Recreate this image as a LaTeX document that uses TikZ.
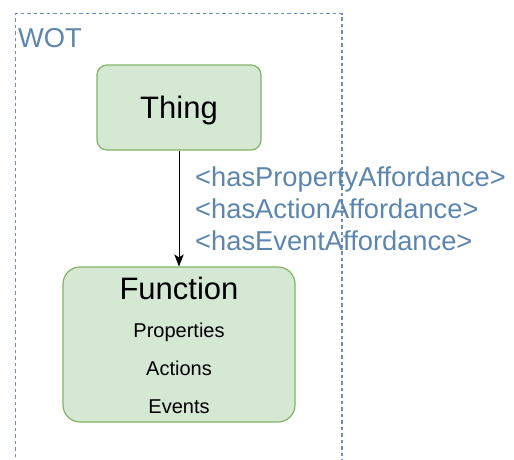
\documentclass[tikz,border=0pt]{standalone}
\usepackage{fontspec}
\setmainfont{Liberation Sans}
\usetikzlibrary{arrows.meta}
\definecolor{gfill}{HTML}{D5E8D4}
\definecolor{gline}{HTML}{82B366}
\definecolor{btext}{HTML}{5C86AE}
\definecolor{bdash}{HTML}{6C8EBF}
\tikzset{
  greenbox/.style={draw=gline, fill=gfill, line width=1.2pt, inner sep=0pt},
  lbl/.style={text=btext, font=\fontsize{27.3}{30}\selectfont, inner sep=0pt, anchor=base west},
  itm/.style={font=\fontsize{20}{24}\selectfont, inner sep=0pt, anchor=base},
  big/.style={font=\fontsize{31}{36}\selectfont, inner sep=0pt, anchor=base},
}
\begin{document}
\begin{tikzpicture}[x=1pt,y=-1pt]
\useasboundingbox (0,0) rectangle (514,459);
\begin{scope}
\clip (0,0) rectangle (514,459);
\draw[bdash, line width=1.3pt, dash pattern=on 3.5pt off 3pt] (15.5,470) -- (15.5,13.5) -- (342,13.5) -- (342,470);
\end{scope}
\node[text=btext, font=\fontsize{27.3}{30}\selectfont, inner sep=0pt, anchor=base west] (wot) at (18,47) {WOT};
\node[greenbox, rounded corners=10pt, minimum width=164pt, minimum height=85pt] (thing) at (179,107.5) {};
\node[big] (thingt) at (179,118) {Thing};
\node[greenbox, rounded corners=17pt, minimum width=232pt, minimum height=155pt] (func) at (179,344.5) {};
\node[big] (funct) at (179,299) {Function};
\node[itm] (props) at (179,337) {Properties};
\node[itm] (acts) at (179,375) {Actions};
\node[itm] (evts) at (179,413) {Events};
\draw[line width=1pt, -{Stealth[length=12pt,width=9.5pt,inset=3pt]}] (thing.south) -- (func.north);
\node[lbl] (l1) at (195,186) {<hasPropertyAffordance>};
\node[lbl] (l2) at (195,218) {<hasActionAffordance>};
\node[lbl] (l3) at (195,250) {<hasEventAffordance>};
\end{tikzpicture}
\end{document}
